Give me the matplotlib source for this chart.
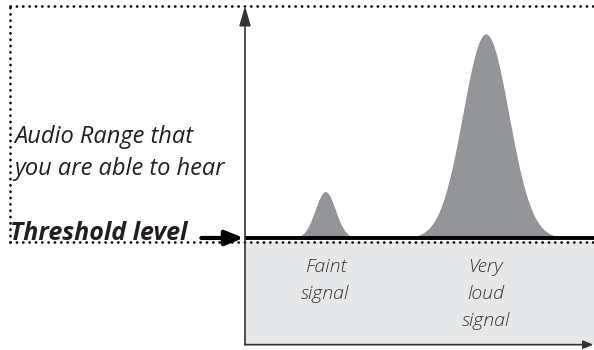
import matplotlib.pyplot as plt
import numpy as np

# signal peaks (frequency position, level above threshold, spread)
peak_labels = ["Faint\nsignal", "Very\nloud\nsignal"]
peak_freq = [23, 69]
peak_level = [20, 88]
peak_width = [2.9, 6.6]
threshold = 0

range_text = ["Audio Range that", "you are able to hear"]
threshold_text = "Threshold level"

plt.rcParams['font.family'] = ['Open Sans', 'DejaVu Sans']

fig = plt.figure(figsize=(5.94, 3.5), dpi=100)
ax = fig.add_axes([0, 0, 1, 1])
ax.set_xlim(-70.2, 100)
ax.set_ylim(-48.3, 102.6)
ax.axis('off')

# gray area below threshold
ax.fill_between([0, 100], -46, threshold - 1.6, color='#e6e7e8', lw=0, zorder=1)

# dotted frame of the audible range
dot = dict(color='black', lw=1.9, linestyle=(0, (0.1, 2.3)),
           dash_capstyle='round', zorder=2)
ax.plot([-67.3, 100], [100, 100], **dot)
ax.plot([-67.3, -67.3], [threshold - 1.6, 100], **dot)
ax.plot([-67.3, 100], [threshold - 1.6, threshold - 1.6], **dot)

# peaks
x = np.linspace(0, 100, 1200)
for f, a, w in zip(peak_freq, peak_level, peak_width):
    y = a * np.exp(-0.5 * ((x - f) / w) ** 2)
    ax.fill_between(x, threshold, threshold + y, color='#939598', lw=0, zorder=3)

# threshold line
ax.plot([0, 100], [threshold, threshold], color='black', lw=2.8,
        solid_capstyle='butt', zorder=4)

# axes arrows
ax.annotate('', xy=(0, 100), xytext=(0, -46),
            arrowprops=dict(arrowstyle='-|>,head_length=1.2,head_width=0.35',
                            color='#333333', lw=1.2, shrinkA=0, shrinkB=0,
                            mutation_scale=10), zorder=5)
ax.annotate('', xy=(99.8, -46), xytext=(0, -46),
            arrowprops=dict(arrowstyle='-|>,head_length=0.6,head_width=0.25',
                            color='#333333', lw=1.2, shrinkA=0, shrinkB=0,
                            mutation_scale=10), zorder=5)

# threshold arrow
ax.annotate('', xy=(-0.4, threshold), xytext=(-12.5, threshold),
            arrowprops=dict(arrowstyle='-|>,head_length=1.1,head_width=0.45',
                            color='black', lw=3, shrinkA=0, shrinkB=0,
                            mutation_scale=10), zorder=5)

# texts
for i, line in enumerate(range_text):
    ax.text(-66.2, 41 - 13.8 * i, line, fontsize=17, style='italic',
            color='#231f20', ha='left', va='baseline')
ax.text(-67.3, -0.8, threshold_text, fontsize=18, style='italic',
        fontweight='bold', color='#231f20', ha='left', va='baseline')

for label, f in zip(peak_labels, peak_freq):
    for i, line in enumerate(label.split('\n')):
        ax.text(f, -14.7 - 11.6 * i, line, fontsize=14, style='italic',
                fontweight='light', color='#333333', ha='center', va='baseline')

fig.savefig('out.png', dpi=100)
